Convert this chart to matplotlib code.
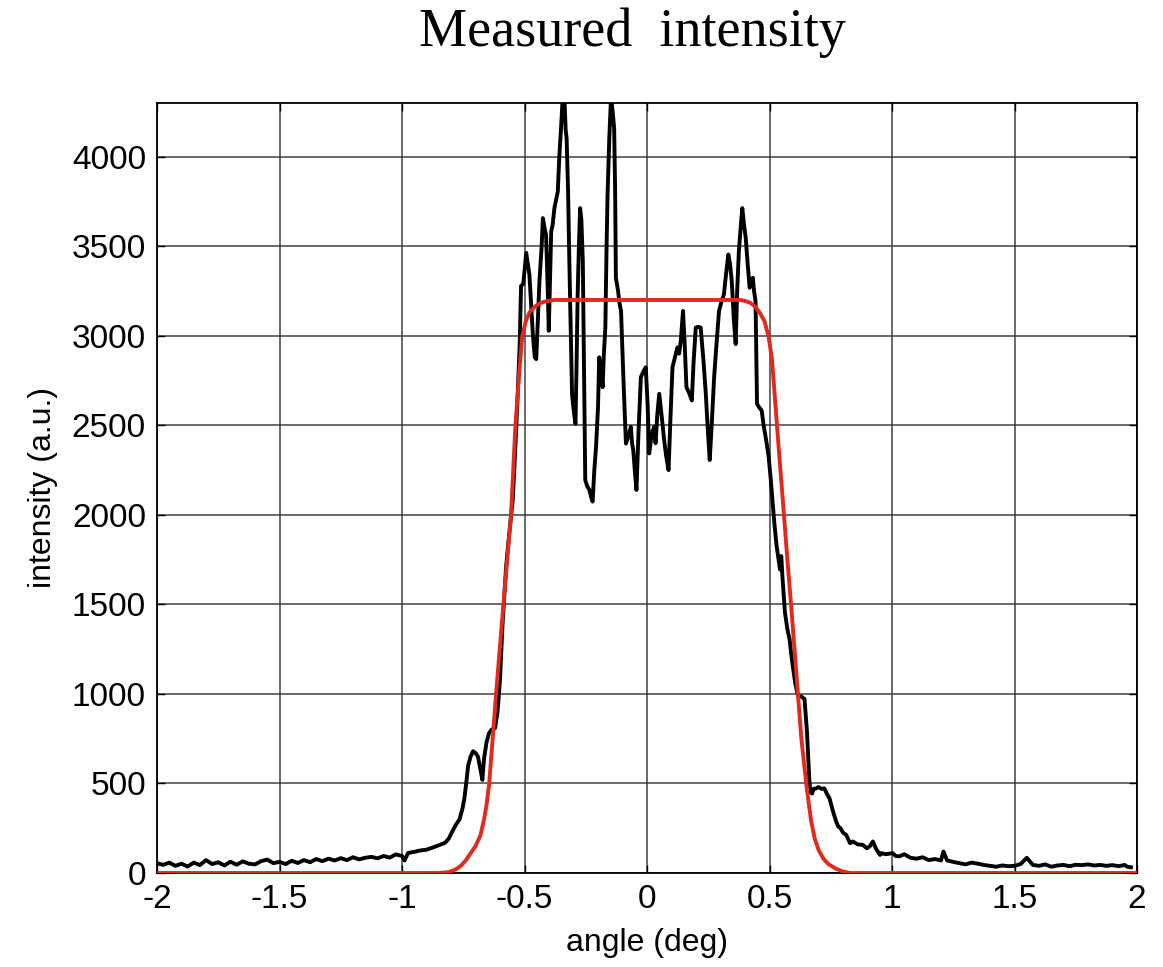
import matplotlib
matplotlib.use("Agg")
import matplotlib.pyplot as plt

# ---------------- data ----------------
measured_x = [
    -2.000, -1.975, -1.950, -1.925, -1.900, -1.875, -1.850, -1.825, -1.800, -1.775,
    -1.750, -1.725, -1.700, -1.675, -1.650, -1.625, -1.600, -1.575, -1.550, -1.525,
    -1.500, -1.475, -1.450, -1.425, -1.400, -1.375, -1.350, -1.325, -1.300, -1.275,
    -1.250, -1.225, -1.200, -1.175, -1.150, -1.125, -1.100, -1.075, -1.050, -1.025,
    -1.000, -0.990, -0.975, -0.950, -0.925, -0.900, -0.875, -0.850, -0.825, -0.810,
    -0.795, -0.780, -0.765, -0.753, -0.745, -0.738, -0.730, -0.720, -0.710, -0.700,
    -0.690, -0.680, -0.672, -0.665, -0.655, -0.645, -0.635, -0.620, -0.610, -0.600,
    -0.590, -0.575, -0.562, -0.548, -0.540, -0.530, -0.520, -0.514, -0.505,
    -0.493, -0.480, -0.466, -0.458, -0.452, -0.445, -0.439, -0.430, -0.425, -0.418,
    -0.412, -0.406, -0.401, -0.396, -0.391, -0.385, -0.378, -0.371, -0.364, -0.358,
    -0.351, -0.344, -0.337, -0.332, -0.328, -0.322, -0.317, -0.311, -0.306, -0.299,
    -0.292, -0.288, -0.283, -0.278, -0.273, -0.268, -0.262, -0.257, -0.252, -0.244,
    -0.235, -0.228, -0.222, -0.215, -0.208, -0.200, -0.195, -0.188, -0.181, -0.176,
    -0.170, -0.165, -0.161, -0.154, -0.147, -0.140, -0.134, -0.130, -0.127, -0.118,
    -0.112, -0.106, -0.096, -0.086, -0.076, -0.066, -0.061, -0.056, -0.050, -0.043,
    -0.035, -0.025, -0.015, -0.005, 0.003, 0.009, 0.019, 0.029, 0.035, 0.042,
    0.050, 0.060, 0.070, 0.078, 0.088, 0.096, 0.104, 0.114, 0.124, 0.131,
    0.138, 0.147, 0.154, 0.161, 0.172, 0.183, 0.190, 0.199, 0.209, 0.219,
    0.230, 0.240, 0.248, 0.256, 0.264, 0.274, 0.284, 0.294, 0.304, 0.314,
    0.323, 0.332, 0.339, 0.346, 0.354, 0.362, 0.368, 0.375, 0.382, 0.389,
    0.396, 0.403, 0.411, 0.419, 0.425, 0.432, 0.437, 0.443, 0.446, 0.449,
    0.458, 0.468, 0.476, 0.486, 0.496, 0.505, 0.512, 0.520, 0.529, 0.536,
    0.543, 0.548, 0.553, 0.563, 0.571, 0.576, 0.582, 0.588,
    0.595, 0.605, 0.616, 0.630, 0.643, 0.648, 0.653, 0.658, 0.663, 0.668,
    0.674, 0.680, 0.690, 0.700, 0.712, 0.724, 0.735, 0.745, 0.758, 0.772,
    0.781, 0.790, 0.800, 0.813, 0.829, 0.840, 0.860, 0.881, 0.897, 0.910,
    0.922, 0.935, 0.951, 0.956, 0.975, 1.003, 1.015, 1.030, 1.050, 1.075,
    1.100, 1.125, 1.150, 1.175, 1.200, 1.210, 1.225, 1.250, 1.275, 1.300,
    1.325, 1.350, 1.375, 1.400, 1.425, 1.450, 1.475, 1.500, 1.525, 1.550,
    1.575, 1.600, 1.625, 1.650, 1.675, 1.700, 1.725, 1.750, 1.775, 1.800,
    1.825, 1.850, 1.875, 1.900, 1.925, 1.950, 1.960, 1.975,
]
measured_y = [
    55, 45, 58, 40, 52, 36, 58, 44, 72, 50,
    60, 42, 63, 46, 65, 52, 48, 66, 75, 55,
    62, 50, 68, 56, 72, 60, 78, 66, 80, 70,
    83, 72, 88, 76, 85, 90, 82, 95, 86, 104,
    95, 70, 112, 118, 126, 130, 142, 155, 168, 190,
    231, 270, 300, 361, 420, 500, 600, 650, 680, 670,
    650, 580, 520, 640, 730, 780, 800, 810, 900, 1080,
    1380, 1713, 1900, 2083, 2300, 2600, 2935, 3278, 3290,
    3463, 3342, 3009, 2880, 2870, 3100, 3305, 3500, 3657, 3600,
    3565, 3300, 3028, 3300, 3583, 3620, 3713, 3760, 3806, 4000,
    4157, 4330, 4330, 4150, 4100, 3800, 3417, 3000, 2676, 2580,
    2509, 2800, 3231, 3500, 3713, 3650, 3417, 2800, 2194, 2160,
    2139, 2100, 2074, 2250, 2380, 2600, 2880, 2800, 2713, 2900,
    3046, 3500, 3787, 4100, 4330, 4250, 4157, 3800, 3324, 3250,
    3180, 3139, 2750, 2398, 2440, 2491, 2400, 2361, 2250, 2139,
    2450, 2769, 2800, 2824, 2600, 2343, 2450, 2491, 2400, 2560,
    2676, 2550, 2417, 2330, 2250, 2550, 2824, 2880, 2935, 2900,
    2972, 3139, 2950, 2713, 2680, 2639, 2850, 3046, 3050, 3046,
    2870, 2676, 2480, 2306, 2500, 2769, 2960, 3139, 3190, 3231,
    3350, 3454, 3400, 3305, 3100, 2954, 3250, 3472, 3600, 3713,
    3620, 3546, 3400, 3268, 3300, 3324, 3250, 3194, 2900, 2620,
    2600, 2583, 2500, 2420, 2330, 2200, 2080, 1950, 1826, 1760,
    1695, 1770, 1650, 1455, 1380, 1340, 1306, 1230,
    1157, 1060, 991, 985, 972, 880, 787, 650, 509, 450,
    444, 470, 472, 480, 470, 472, 440, 417, 350, 287,
    259, 250, 225, 213, 166, 176, 160, 157, 138, 150,
    176, 135, 101, 111, 105, 111, 95, 93, 105, 85,
    80, 88, 72, 78, 70, 120, 70, 62, 55, 48,
    58, 52, 45, 40, 35, 42, 38, 40, 50, 85,
    45, 40, 48, 35, 42, 45, 38, 46, 44, 48,
    42, 45, 40, 44, 38, 45, 35, 32,
]

fit_x = [
    -2.000, -0.850, -0.810, -0.780, -0.760, -0.740, -0.720, -0.700, -0.680, -0.665,
    -0.655, -0.644, -0.630, -0.616, -0.600, -0.586, -0.570, -0.555, -0.537, -0.520,
    -0.509, -0.495, -0.480, -0.460, -0.440, -0.420, -0.400, -0.380,
    0.380, 0.400, 0.420, 0.440, 0.460, 0.480, 0.497, 0.510, 0.525, 0.540,
    0.559, 0.573, 0.588, 0.602, 0.616, 0.630, 0.650, 0.660, 0.670, 0.685,
    0.700, 0.720, 0.740, 0.770, 0.800, 0.830, 2.000,
]
fit_y = [
    0, 0, 5, 20, 40, 70, 110, 150, 210, 300,
    380, 500, 750, 1000, 1270, 1500, 1760, 2000, 2500, 2820,
    3000, 3080, 3130, 3160, 3180, 3190, 3195, 3200,
    3200, 3195, 3185, 3165, 3130, 3080, 2990, 2870, 2600, 2330,
    2000, 1750, 1500, 1250, 1000, 750, 500, 390, 290, 190,
    130, 80, 50, 25, 8, 0, 0,
]

x_ticks = [-2, -1.5, -1, -0.5, 0, 0.5, 1, 1.5, 2]
x_tick_labels = ["-2", "-1.5", "-1", "-0.5", "0", "0.5", "1", "1.5", "2"]
y_ticks = [0, 500, 1000, 1500, 2000, 2500, 3000, 3500, 4000]

title_text = "Measured  intensity"
x_label = "angle (deg)"
y_label = "intensity (a.u.)"

# ---------------- drawing ----------------
plt.rcParams["font.family"] = ["Liberation Sans", "DejaVu Sans"]

fig = plt.figure(figsize=(11.63, 9.67), dpi=100)
ax = fig.add_axes([157 / 1163, 1 - 873 / 967, (1137 - 157) / 1163, (873 - 103) / 967])

ax.plot(measured_x, measured_y, color="black", lw=2.8, zorder=3,
        solid_joinstyle="round")
ax.plot(fit_x, fit_y, color="#e02a1c", lw=2.8, zorder=4)

ax.set_xlim(-2, 2)
ax.set_ylim(0, 4300)
ax.set_xticks(x_ticks)
ax.set_xticklabels(x_tick_labels)
ax.set_yticks(y_ticks)

ax.grid(True, color="#333333", lw=1.2, alpha=0.85)
ax.set_axisbelow(True)
for s in ax.spines.values():
    s.set_color("black")
    s.set_linewidth(1.3)

ax.tick_params(axis="both", which="both", direction="in", length=6,
               top=True, right=True, labelsize=24, pad=8, width=1.0)

ax.set_xlabel(x_label, fontsize=23, labelpad=9)
ax.set_ylabel(y_label, fontsize=23, labelpad=10)

fig.text(632 / 1163, 1 - 33 / 967, title_text, ha="center", va="center",
         fontsize=39, family=["Liberation Serif", "DejaVu Serif"])

fig.savefig("out.png", dpi=100, facecolor="white")
